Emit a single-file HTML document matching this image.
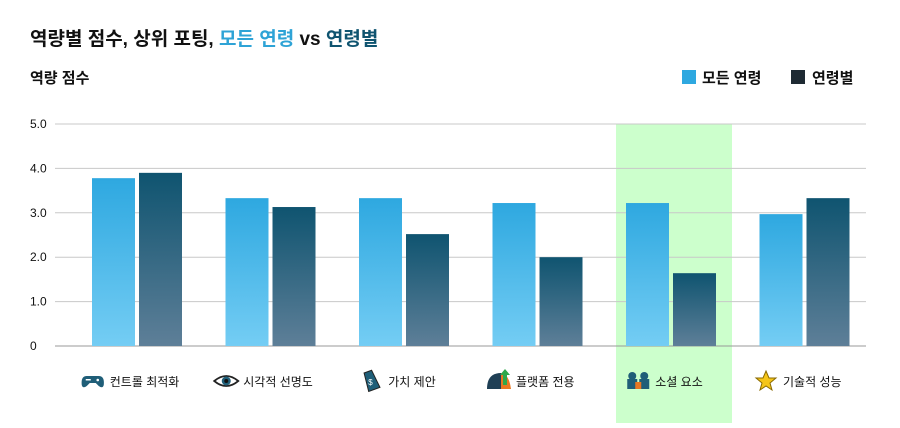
<!DOCTYPE html>
<html><head><meta charset="utf-8"><style>
body{margin:0;background:#fff;font-family:"Liberation Sans","Noto Sans CJK KR",sans-serif;}
svg text{font-family:"Liberation Sans","Noto Sans CJK KR",sans-serif;}
</style></head><body>
<svg id="chart" width="900" height="423" viewBox="0 0 900 423" xmlns="http://www.w3.org/2000/svg">
<defs>
<linearGradient id="gl" x1="0" y1="0" x2="0" y2="1"><stop offset="0" stop-color="#2ea8e0"/><stop offset="1" stop-color="#74cdf4"/></linearGradient>
<linearGradient id="gd" x1="0" y1="0" x2="0" y2="1"><stop offset="0" stop-color="#0f5470"/><stop offset="1" stop-color="#5e7f98"/></linearGradient>
</defs>
<text x="30" y="45" font-size="19" font-weight="bold" fill="#111">역량별 점수, 상위 포팅, <tspan fill="#2ea3d6">모든 연령</tspan> vs <tspan fill="#0f5470">연령별</tspan></text>
<text x="30" y="83" font-size="15" font-weight="bold" fill="#111">역량 점수</text>
<g>
<rect x="682" y="70" width="14" height="14" fill="#2ea8e0"/>
<text x="702" y="83" font-size="15" font-weight="bold" fill="#111">모든 연령</text>
<rect x="791" y="70" width="14" height="14" fill="#1e2a33"/>
<text x="812" y="83" font-size="15" font-weight="bold" fill="#111">연령별</text>
</g>
<g id="plot"></g>
</svg>
<script>
const categories=["컨트롤 최적화","시각적 선명도","가치 제안","플랫폼 전용","소셜 요소","기술적 성능"];
const allAges=[3.78,3.33,3.33,3.22,3.22,2.97];
const byAge=[3.9,3.13,2.52,2.0,1.64,3.33];
const ticks=[0,1,2,3,4,5];
const tickLabels=["0","1.0","2.0","3.0","4.0","5.0"];
const highlightIndex=4;
const NS="http://www.w3.org/2000/svg";
const g=document.getElementById('plot');
const y0=346,y5=124,xL=55,xR=866,x0=70,gw=133.5;
const y=v=>y0-(y0-y5)*v/5;
const gx=i=>x0+i*gw;
function mk(t,a){const e=document.createElementNS(NS,t);for(const k in a)e.setAttribute(k,a[k]);g.appendChild(e);return e;}
// highlight
let h=mk('rect',{x:gx(highlightIndex)+12,y:y5,width:116,height:423-y5,fill:'#ccffcc'});


ticks.forEach((t,i)=>{
 let l=mk('line',{x1:xL,x2:xR,y1:y(t),y2:y(t),stroke:i==0?'#999':'#c8c8c8','stroke-width':1});
 
 
 let tx=mk('text',{x:30,y:y(t)+4,'font-size':12,fill:'#111'});
 tx.textContent=tickLabels[i];
 
 
});
const icons=[
 '<path d="M-11,4 Q-12,-5 -6,-5 L6,-5 Q12,-5 11,4 Q10,8 6,5 L3,2 L-3,2 L-6,5 Q-10,8 -11,4Z" fill="#1f5e78"/><circle cx="5" cy="-1" r="1.3" fill="#fff"/><rect x="-7" y="-2" width="5" height="1.5" fill="#fff"/>',
 '<path d="M-12,0 Q0,-10 12,0 Q0,10 -12,0Z" fill="#fff" stroke="#222" stroke-width="1.8"/><circle r="4.5" fill="#1f5e78"/><circle r="2" fill="#111"/>',
 '<path d="M-4,-10 L4,-10 L6,9 L-6,9Z" transform="rotate(-20)" fill="#1f5e78" stroke="#222"/><text x="-3" y="4" font-size="8" fill="#fff">$</text>',
 '<path d="M-12,8 Q-12,-8 2,-8 L2,8Z" fill="#1f3f55"/><path d="M2,-8 Q10,-7 12,8 L2,8Z" fill="#e87722"/><path d="M4,4 L4,-6 L1,-6 L6,-12 L11,-6 L8,-6 L8,4Z" fill="#2ea84a"/>',
 '<circle cx="-6" cy="-5" r="4" fill="#1f5e78"/><circle cx="6" cy="-5" r="4" fill="#1f5e78"/><rect x="-11" y="-2" width="10" height="10" fill="#1f5e78"/><rect x="1" y="-2" width="10" height="10" fill="#1f5e78"/><rect x="-3" y="1" width="6" height="7" fill="#e87722"/>',
 '<path d="M0,-10 L3,-3 L10,-3 L4,2 L6,9 L0,5 L-6,9 L-4,2 L-10,-3 L-3,-3Z" fill="#f5c518" stroke="#8a6a00" stroke-width="1"/>'
];
categories.forEach((c,i)=>{
 let b1=mk('rect',{x:gx(i)+22,y:y(allAges[i]),width:43,height:y0-y(allAges[i]),fill:'url(#gl)'});
 
 
 let b2=mk('rect',{x:gx(i)+69,y:y(byAge[i]),width:43,height:y0-y(byAge[i]),fill:'url(#gd)'});
 
 
 const cx=gx(i)+67;
 const tw=c.length*11.5;
 const start=cx-(tw+30)/2;
 let ic=mk('g',{transform:`translate(${start+11},381)`});
 ic.innerHTML=icons[i];
 
 
 let t=mk('text',{x:start+28,y:386,'font-size':12,fill:'#111'});
 t.textContent=c;
 
 
});
</script>
</body></html>
